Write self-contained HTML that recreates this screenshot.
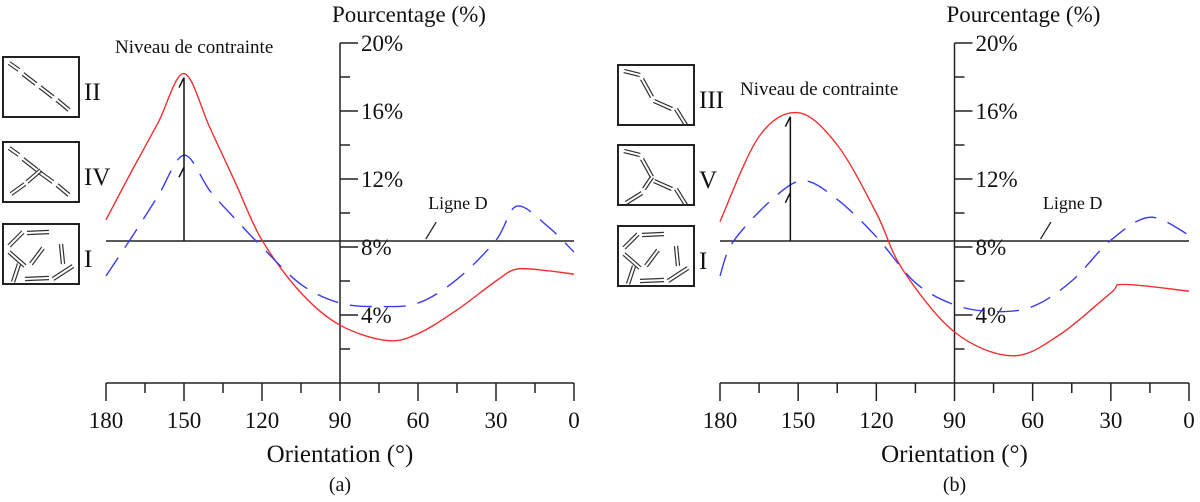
<!DOCTYPE html>
<html><head><meta charset="utf-8"><style>
html,body{margin:0;padding:0;background:#fff;}
svg{display:block;font-family:"Liberation Serif",serif;}
</style></head><body>
<svg id="fig" width="1200" height="502" viewBox="0 0 1200 502"></svg>
<script>
// ---- data ----
const xTicks = [180,150,120,90,60,30,0];
const yTickLabels = ["4%","8%","12%","16%","20%"];
const yTickValues = [4,8,12,16,20];
const ligneD = 8.35;
const degA = [180,170,160,150,140,130,120,105,90,72,60,45,30,22,10,0];
const redA = [9.6,12.5,15.3,18.2,15.0,11.7,8.4,5.3,3.4,2.5,2.9,4.3,6.0,6.7,6.6,6.4];
const degA2 = [180,170,160,150,140,130,120,105,90,75,60,45,30,22,10,0];
const blueA = [6.3,8.6,11.0,13.4,11.3,9.6,8.0,5.8,4.7,4.5,4.7,6.1,8.4,10.4,9.2,7.7];
const degB = [180,165,150,135,120,110,90,68,50,30,25,0];
const redB = [9.5,14.5,15.9,14.0,10.0,6.7,3.0,1.6,2.8,5.3,5.8,5.4];
const degB2 = [180,175,160,148,135,120,105,90,75,60,45,30,15,0];
const blueB = [6.3,8.3,10.8,11.9,10.8,8.6,5.9,4.6,4.2,4.5,6.0,8.4,9.75,8.7];
const arrowA = {deg:150, top:18.2, mid:13.4};
const arrowB = {deg:153, top:15.9, mid:11.9};

const NS="http://www.w3.org/2000/svg";
const svg=document.getElementById('fig');
function el(tag,attrs,parent){const e=document.createElementNS(NS,tag);for(const k in attrs)e.setAttribute(k,attrs[k]);(parent||svg).appendChild(e);return e;}
function smooth(pts){let d=`M${pts[0][0]},${pts[0][1]}`;for(let i=0;i<pts.length-1;i++){const p0=pts[i-1]||pts[i],p1=pts[i],p2=pts[i+1],p3=pts[i+2]||p2;const c1=[p1[0]+(p2[0]-p0[0])/6,p1[1]+(p2[1]-p0[1])/6],c2=[p2[0]-(p3[0]-p1[0])/6,p2[1]-(p3[1]-p1[1])/6];d+=` C${c1[0]},${c1[1]} ${c2[0]},${c2[1]} ${p2[0]},${p2[1]}`;}return d;}

function panel(id,x180,x0,label,rd,rv,bd,bv,arrow,icons){
  const g=el('g',{});
  
  
  const xs=d=>x0+(x180-x0)*d/180;
  const ys=v=>383-v*17;
  const xa=xs(90);
  const ya=el('line',{x1:xa,y1:ys(20),x2:xa,y2:383,stroke:'#222','stroke-width':1.5},g);
  
  
  for(let v=2;v<=20;v+=2){el('line',{x1:xa,y1:ys(v),x2:xa+(v%4==0?18:10),y2:ys(v),stroke:'#222','stroke-width':1.5},g);}
  yTickLabels.forEach((t,i)=>{const tx=el('text',{x:xa+21,y:ys(yTickValues[i])+8,'font-size':23,fill:'#111'},g);tx.textContent=t;
    
    });
  const yt=el('text',{x:xa-8,y:22,'font-size':23,fill:'#111'},g);yt.textContent='Pourcentage (%)';
  
  
  const xl=el('line',{x1:xs(180),y1:383,x2:xs(0),y2:383,stroke:'#222','stroke-width':1.5},g);
  
  
  for(let d=0;d<=180;d+=15){el('line',{x1:xs(d),y1:383,x2:xs(d),y2:383+(d%30==0?18:10),stroke:'#222','stroke-width':1.5},g);}
  xTicks.forEach(d=>{const tx=el('text',{x:xs(d),y:428,'font-size':23,'text-anchor':'middle',fill:'#111'},g);tx.textContent=d;
    
    });
  const xt=el('text',{x:xa,y:462,'font-size':25,'text-anchor':'middle',fill:'#111'},g);xt.textContent='Orientation (°)';
  
  
  const cap=el('text',{x:xa,y:491,'font-size':20,'text-anchor':'middle',fill:'#111'},g);cap.textContent=label;
  
  
  const ld=el('line',{x1:xs(180),y1:ys(ligneD),x2:xs(0),y2:ys(ligneD),stroke:'#222','stroke-width':1.5},g);
  
  
  el('line',{x1:xs(57),y1:ys(ligneD)-2,x2:xs(53),y2:ys(ligneD)-19,stroke:'#222','stroke-width':1.3},g);
  const ldt=el('text',{x:xs(53)-8,y:ys(ligneD)-32,'font-size':18,fill:'#111'},g);ldt.textContent='Ligne D';
  
  
  const r=el('path',{d:smooth(rd.map((d,i)=>[xs(d),ys(rv[i])])),fill:'none',stroke:'#f03030','stroke-width':1.4},g);
  
  
  const b=el('path',{d:smooth(bd.map((d,i)=>[xs(d),ys(bv[i])])),fill:'none',stroke:'#3a3af0','stroke-width':1.4,'stroke-dasharray':'22,12'},g);
  
  
  const ax=xs(arrow.deg);
  const ar=el('path',{d:`M${ax},${ys(ligneD)} L${ax},${ys(arrow.top)+4} M${ax-5},${ys(arrow.top)+14} L${ax},${ys(arrow.top)+4} M${ax-5},${ys(arrow.mid)+22} L${ax},${ys(arrow.mid)+12}`,fill:'none',stroke:'#111','stroke-width':1.5},g);
  
  
  const nt=el('text',{x:icons.nx,y:icons.ny,'font-size':19,fill:'#111'},g);nt.textContent='Niveau de contrainte';
  
  
  icons.boxes.forEach(bx=>{
    const ig=el('g',{},g);
    
    
    el('rect',{x:bx.x,y:bx.y,width:76,height:60,fill:'#fff',stroke:'#222','stroke-width':2},ig);
    bx.segs.forEach(s=>{const [a,b2,c,d]=s;const dx=c-a,dy=d-b2,L=Math.hypot(dx,dy),nx=-dy/L*1.6,ny=dx/L*1.6;
      el('line',{x1:bx.x+a+nx,y1:bx.y+b2+ny,x2:bx.x+c+nx,y2:bx.y+d+ny,stroke:'#333','stroke-width':1.2},ig);
      el('line',{x1:bx.x+a-nx,y1:bx.y+b2-ny,x2:bx.x+c-nx,y2:bx.y+d-ny,stroke:'#333','stroke-width':1.2},ig);});
    const lt=el('text',{x:bx.x+81,y:bx.y+43,'font-size':25,fill:'#111'},ig);lt.textContent=bx.l;
  });
}
const diag=[[6,6,16,13],[20,17,33,27],[37,30,50,40],[54,43,66,53]];
const rand=[[6,22,20,8],[24,9,46,8],[6,28,22,42],[28,40,40,24],[58,20,60,40],[10,58,16,40],[22,55,46,54],[50,55,70,42]];
panel('a',106,574,'(a)',degA,redA,degA2,blueA,arrowA,{nx:115,ny:53,boxes:[
 {x:3,y:57,l:'II',segs:diag},
 {x:3,y:142,l:'IV',segs:[[6,6,16,13],[20,17,34,28],[36,30,50,40],[54,43,66,53],[8,52,22,42],[24,40,38,28]]},
 {x:3,y:224,l:'I',segs:rand}]});
panel('b',720,1189,'(b)',degB,redB,degB2,blueB,arrowB,{nx:740,ny:95,boxes:[
 {x:618,y:65,l:'III',segs:[[6,6,22,10],[24,14,34,32],[36,36,54,44],[58,44,68,60]]},
 {x:618,y:145,l:'V',segs:[[6,6,22,10],[24,14,34,32],[36,36,54,44],[58,44,68,60],[8,58,24,48],[26,44,34,32]]},
 {x:618,y:226,l:'I',segs:rand}]});
</script>
</body></html>
